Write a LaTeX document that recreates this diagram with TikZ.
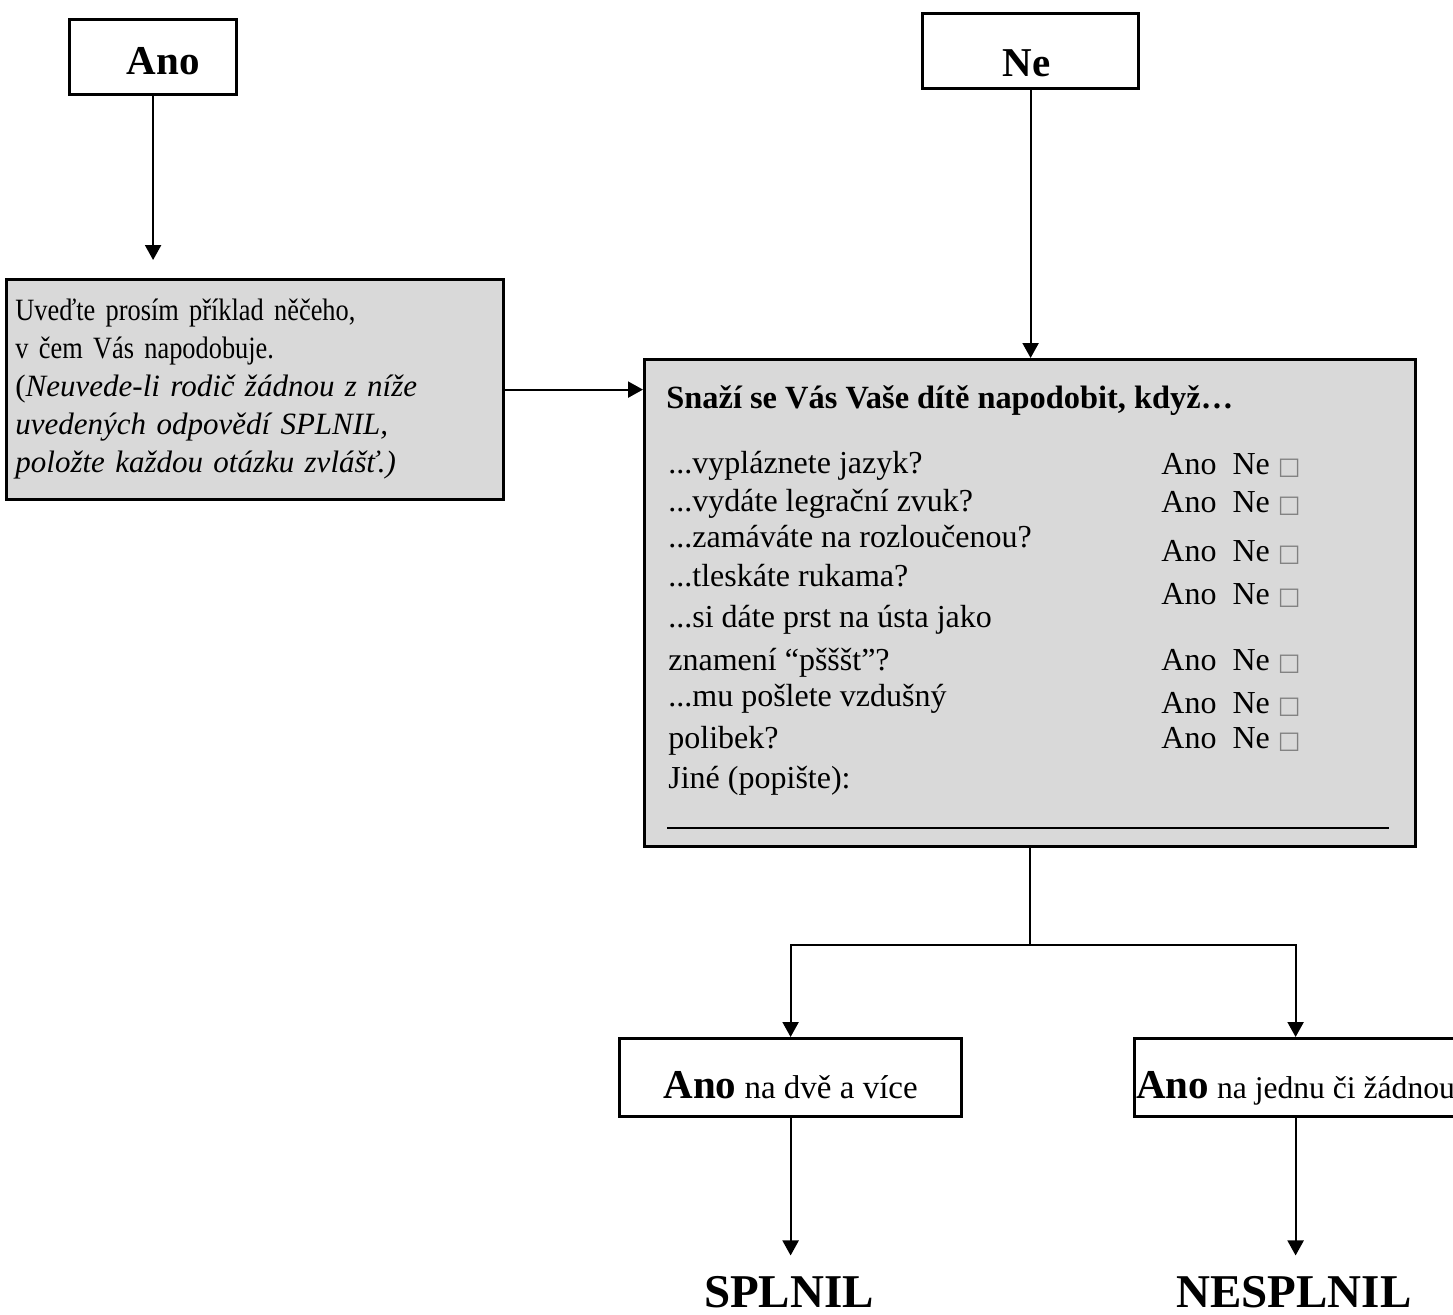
\documentclass[tikz,border=0pt]{standalone}
\usepackage{fontspec}
\setmainfont{Liberation Serif}
\newfontfamily\narrowserif[FakeStretch=0.85]{Liberation Serif}
\newfontfamily\tickfont{DejaVu Sans}
\usetikzlibrary{arrows.meta}
\definecolor{panelgray}{HTML}{D9D9D9}

\begin{document}
\begin{tikzpicture}[x=0.5pt, y=-0.5pt,
    frame/.style={draw, line width=1.6pt, inner sep=0pt, anchor=north west},
    shaded/.style={frame, fill=panelgray},
    link/.style={line width=1.1pt},
    arrow/.style={link, -{Triangle[length=7.5pt, width=8pt]}},
    body/.style={font=\fontsize{16}{19}\selectfont, inner sep=0pt, anchor=base west},
    verdict/.style={font=\bfseries\fontsize{23.5}{26}\selectfont, inner sep=0pt, anchor=base},
]
    \useasboundingbox (0,0) rectangle (1453,1314);

    % first answer boxes
    \node (ano) [frame, minimum width=83.5pt, minimum height=37.5pt, text height=17pt, text depth=0pt,
        font=\bfseries\fontsize{20.5}{22}\selectfont] at (68,18) {\hspace*{10pt}Ano};
    \node (ne) [frame, minimum width=108pt, minimum height=37.5pt, text height=25pt, text depth=0pt,
        font=\bfseries\fontsize{20.5}{22}\selectfont] at (921,12) {Ne\hspace*{4pt}};

    % example box (yes branch)
    \node (note) [shaded, minimum width=248.5pt, minimum height=110pt] at (5,278) {};
    \node (notetext) [body, text width=240pt, align=left, font=\fontsize{15.5}{19}\selectfont] at (15,320)
        {{\narrowserif Uveďte prosím příklad něčeho,}\\ {\narrowserif v čem Vás napodobuje.}\\
         (\textit{Neuvede-li rodič žádnou z níže}\\
         \textit{uvedených odpovědí SPLNIL,}\\ \textit{položte každou otázku zvlášť.)}};

    % question box (no branch)
    \node (main) [shaded, minimum width=385.5pt, minimum height=243.5pt] at (643,358) {};
    \node (head) [body, font=\bfseries\fontsize{16.2}{19}\selectfont] at (666,408)
        {Snaží se Vás Vaše dítě napodobit, když…};
    \foreach \y/\q [count=\i] in {473/{...vypláznete jazyk?}, 511/{...vydáte legrační zvuk?},
        547/{...zamáváte na rozloučenou?}, 586/{...tleskáte rukama?},
        627/{...si dáte prst na ústa jako}, 670/{znamení “pšššt”?},
        706/{...mu pošlete vzdušný}, 748/{polibek?}, 788/{Jiné (popište):}}
        \node (q\i) [body] at (668,\y) {\q};
    \foreach \y [count=\i] in {474,512,561,604,670,713,748}
        \node (a\i) [body] at (1161,\y) {Ano\ \ Ne {\tickfont\fontsize{12}{12}\selectfont\color{gray}□}};
    \coordinate (blankL) at (667,828);
    \coordinate (blankR) at (1389,828);
    \draw[line width=0.8pt] (blankL) -- (blankR);

    % outcome boxes
    \node (dva) [frame, minimum width=171pt, minimum height=39pt, text height=21pt, text depth=0pt,
        font=\fontsize{16.5}{18}\selectfont] at (618,1037)
        {{\bfseries\fontsize{20.5}{22}\selectfont Ano} na dvě a více};
    \node (jedna) [frame, minimum width=161pt, minimum height=39pt, text height=21pt, text depth=0pt,
        font=\fontsize{15.8}{18}\selectfont] at (1133,1037)
        {{\bfseries\fontsize{20.5}{22}\selectfont Ano} na jednu či žádnou};
    \node (splnil) [verdict] at (789,1307) {SPLNIL};
    \node (nesplnil) [verdict] at (1294,1307) {NESPLNIL};

    % connectors
    \draw[arrow, shorten >=9pt] (ano.south) -- (ano.south |- note.north);
    \draw[arrow] (ne.south) -- (ne.south |- main.north);
    \draw[arrow] (note.east) -- (note.east -| main.west);
    \path (main.south) ++(0,97) coordinate (split);
    \draw[link] (main.south) -- (split);
    \draw[arrow] (split) -| (dva.north);
    \draw[arrow] (split) -| (jedna.north);
    \draw[arrow, shorten >=10pt] (dva.south) -- (dva.south |- splnil.north);
    \draw[arrow, shorten >=10pt] (jedna.south) -- (jedna.south |- nesplnil.north);
\end{tikzpicture}
\end{document}
